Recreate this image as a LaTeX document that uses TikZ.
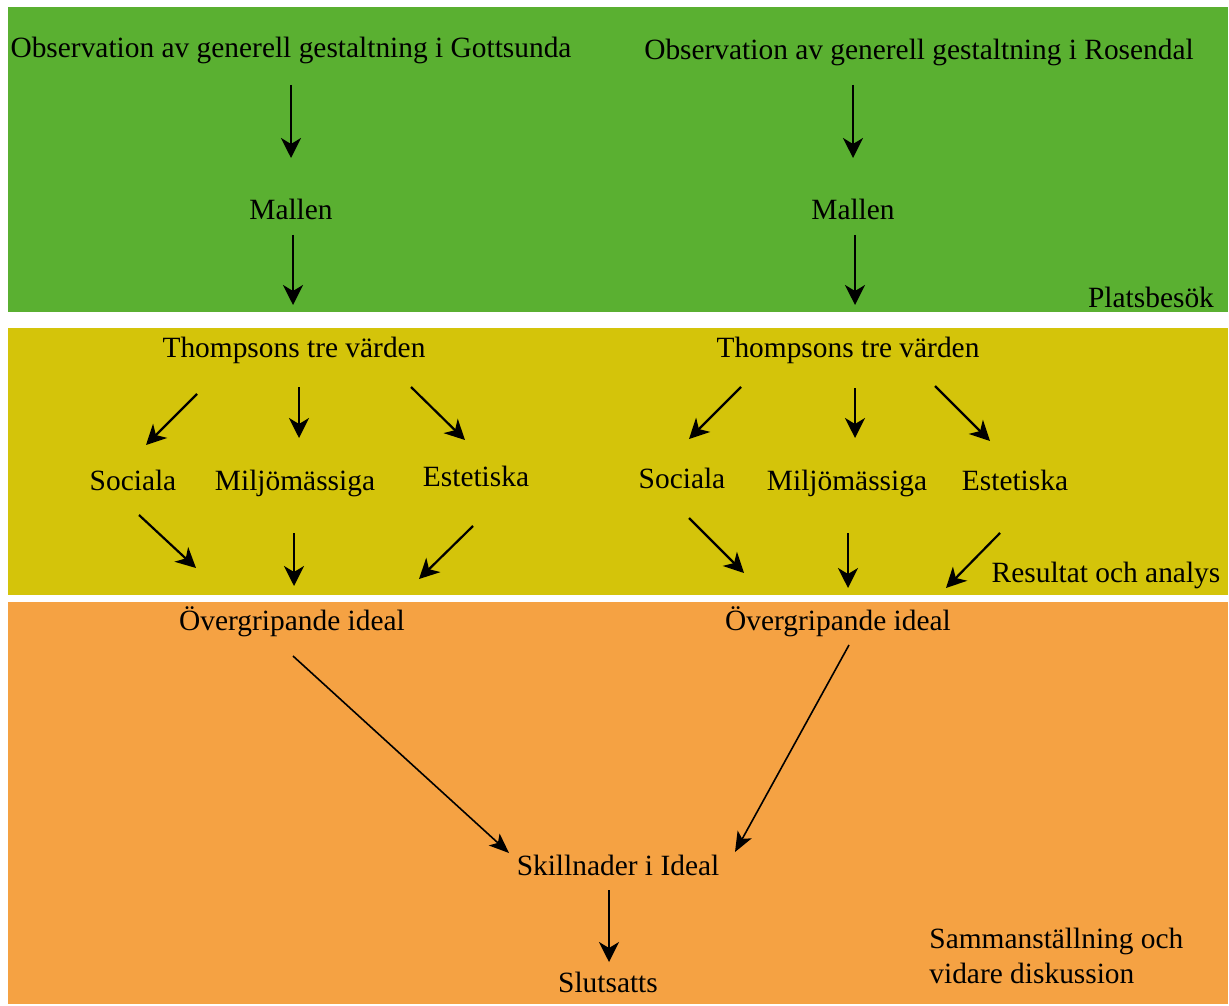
\documentclass[tikz,border=0pt]{standalone}
\usepackage{fontspec}
\setmainfont{Liberation Serif}
\usetikzlibrary{arrows.meta}
\definecolor{bandgreen}{RGB}{90,176,49}
\definecolor{bandyellow}{RGB}{212,196,10}
\definecolor{bandorange}{RGB}{245,162,67}
\tikzset{
  lbl/.style={font=\fontsize{14.7pt}{17.5pt}\selectfont, inner sep=0pt, anchor=base},
  arr/.style={line width=1.1pt, -{Stealth[length=10pt,width=10pt,inset=3pt]}},
  arrthin/.style={line width=0.8pt, -{Stealth[length=10pt,width=8pt,inset=2.5pt]}}
}
\begin{document}
\begin{tikzpicture}[x=0.5pt,y=-0.5pt]
\useasboundingbox (0,0) rectangle (1229,1005);
\fill[white] (0,0) rectangle (1229,1005);
% bands
\fill[bandgreen] (8,7) rectangle (1228,312);
\fill[bandyellow] (8,328) rectangle (1228,595);
\fill[bandorange] (8,602) rectangle (1228,1004);

% nodes
\node[lbl] (oL) at (291,58) {Observation av generell gestaltning i Gottsunda};
\node[lbl] (oR) at (919,60) {Observation av generell gestaltning i Rosendal};
\node[lbl] (mL) at (291,220) {Mallen};
\node[lbl] (mR) at (853,220) {Mallen};
\node[lbl] (pb) at (1151,307) {Platsbesök};
\node[lbl] (tL) at (294,357) {Thompsons tre värden};
\node[lbl] (tR) at (848,357) {Thompsons tre värden};
\node[lbl] (sL) at (133,490) {Sociala};
\node[lbl] (miL) at (295,490) {Miljömässiga};
\node[lbl] (eL) at (476,486) {Estetiska};
\node[lbl] (sR) at (682,488) {Sociala};
\node[lbl] (miR) at (847,490) {Miljömässiga};
\node[lbl] (eR) at (1015,490) {Estetiska};
\node[lbl] (ra) at (1106,582) {Resultat och analys};
\node[lbl] (gL) at (292,630) {Övergripande ideal};
\node[lbl] (gR) at (838,630) {Övergripande ideal};
\node[lbl] (sk) at (618,875) {Skillnader i Ideal};
\node[lbl] (sl) at (608,992) {Slutsatts};
\node[lbl, anchor=base west, align=left] (sd) at (929,983) {Sammanställning och\\vidare diskussion};

% connectors
\draw[arr] ([shift={(0,27)}]oL.base) -- ([shift={(0,-62)}]mL.base);
\draw[arr] ([shift={(-66,25)}]oR.base) -- ([shift={(0,-62)}]mR.base);
\draw[arr] ([shift={(2,15)}]mL.base) -- ([shift={(-1,-52)}]tL.base);
\draw[arr] ([shift={(2,15)}]mR.base) -- ([shift={(7,-52)}]tR.base);

\draw[arr] ([shift={(-97,37)}]tL.base) -- ([shift={(13,-45)}]sL.base);
\draw[arr] ([shift={(5,30)}]tL.base) -- ([shift={(4,-52)}]miL.base);
\draw[arr] ([shift={(117,30)}]tL.base) -- ([shift={(-11,-46)}]eL.base);
\draw[arr] ([shift={(6,25)}]sL.base) -- ([shift={(-96,-62)}]gL.base);
\draw[arr] ([shift={(-1,43)}]miL.base) -- ([shift={(2,-44)}]gL.base);
\draw[arr] ([shift={(-3,40)}]eL.base) -- ([shift={(127,-51)}]gL.base);

\draw[arr] ([shift={(-107,30)}]tR.base) -- ([shift={(7,-49)}]sR.base);
\draw[arr] ([shift={(7,31)}]tR.base) -- ([shift={(8,-52)}]miR.base);
\draw[arr] ([shift={(87,29)}]tR.base) -- ([shift={(-25,-49)}]eR.base);
\draw[arr] ([shift={(7,30)}]sR.base) -- ([shift={(-94,-57)}]gR.base);
\draw[arr] ([shift={(1,43)}]miR.base) -- ([shift={(10,-42)}]gR.base);
\draw[arr] ([shift={(-15,43)}]eR.base) -- ([shift={(108,-42)}]gR.base);

\draw[arrthin] ([shift={(1,26)}]gL.base) -- ([shift={(-109,-22)}]sk.base);
\draw[arrthin] ([shift={(11,15)}]gR.base) -- ([shift={(117,-23)}]sk.base);
\draw[arr] ([shift={(-9,15)}]sk.base) -- ([shift={(1,-30)}]sl.base);
\end{tikzpicture}
\end{document}
